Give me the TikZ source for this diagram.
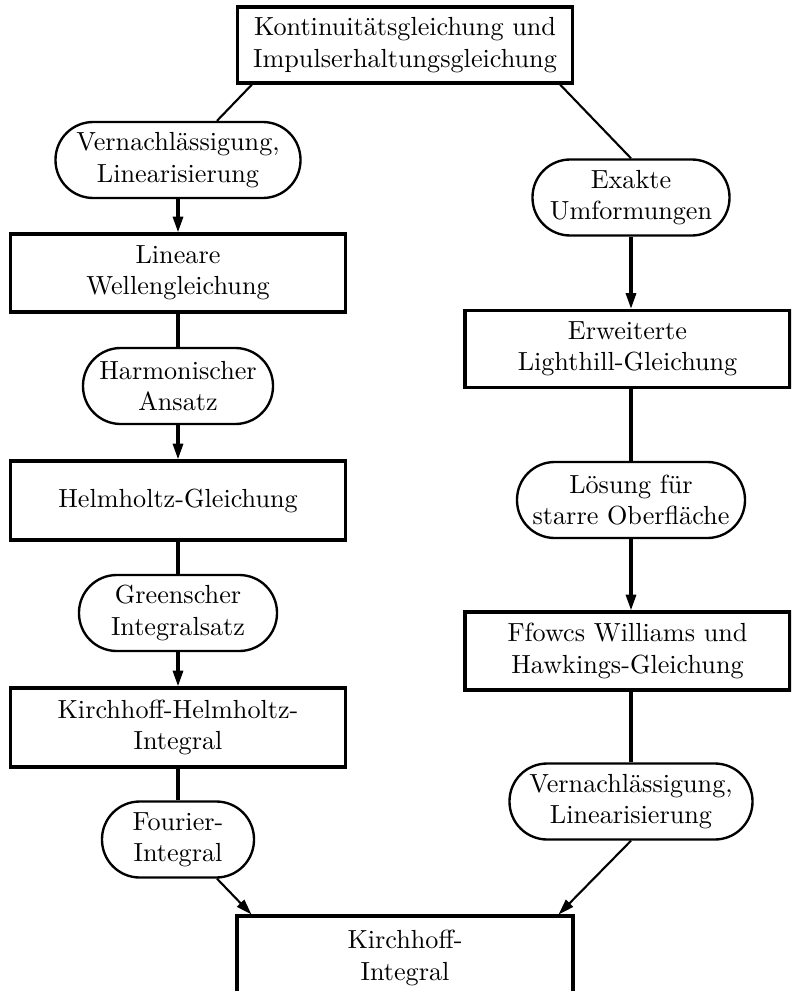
\documentclass[tikz,border=0pt]{standalone}
\usepackage{fontspec}
\usetikzlibrary{arrows.meta,calc}
\newcommand\pxu{0.382pt}
\tikzset{
  x=0.382pt, y=-0.382pt,
  boxnode/.style={draw, line width=1.2pt, rectangle, inner sep=0pt, align=center,
    minimum width=#1*\pxu, minimum height=78*\pxu},
  ovalnode/.style={draw, line width=0.9pt, rectangle, rounded corners=14.4pt, inner sep=0pt, align=center,
    minimum width=#1*\pxu, minimum height=76*\pxu},
  plain/.style={line width=1.2pt},
  diag/.style={line width=0.8pt},
  arr/.style={-{Triangle[length=6pt,width=3.8pt]}},
}
\begin{document}
\begin{tikzpicture}
\useasboundingbox (0,0) rectangle (791,991);
\clip (0,0) rectangle (791,991);
% left column
\node[boxnode=335, minimum height=76*\pxu] (top) at (405,45) {Kontinuitätsgleichung und\\Impulserhaltungsgleichung};
\node[ovalnode=245] (vl1) at (178,160) {Vernachlässigung,\\Linearisierung};
\node[boxnode=335] (lin) at (178,273) {Lineare\\Wellengleichung};
\node[ovalnode=190] (harm) at (178,386) {Harmonischer\\Ansatz};
\node[boxnode=335, minimum height=79*\pxu] (helm) at (178,500.5) {Helmholtz-Gleichung};
\node[ovalnode=198] (green) at (178,613) {Greenscher\\Integralsatz};
\node[boxnode=335, minimum height=79*\pxu] (kh) at (178,727.5) {Kirchhoff-Helmholtz-\\Integral};
\node[ovalnode=152] (four) at (178,839.5) {Fourier-\\Integral};
% right column
\node[ovalnode=197] (exa) at (631,197.5) {Exakte\\Umformungen};
\node[boxnode=325, minimum height=77*\pxu] (lig) at (627.5,349) {Erweiterte\\Lighthill-Gleichung};
\node[ovalnode=228] (loes) at (631,500) {Lösung für\\starre Oberfläche};
\node[boxnode=325] (ffw) at (627.5,651) {Ffowcs Williams und\\Hawkings-Gleichung};
\node[ovalnode=243] (vl2) at (631,801.5) {Vernachlässigung,\\Linearisierung};
% bottom
\node[boxnode=336, minimum height=84*\pxu] (bot) at (405,958) {Kirchhoff-\\Integral};
% connectors
\draw[diag] ([xshift=16*\pxu]top.south west) -- ([xshift=39*\pxu]vl1.north);
\draw[diag] ([xshift=-14*\pxu]top.south east) -- (exa.north);
\draw[plain,arr] (vl1.south) -- (lin.north);
\draw[plain] (lin.south) -- (harm.north);
\draw[plain,arr] (harm.south) -- (helm.north);
\draw[plain] (helm.south) -- (green.north);
\draw[plain,arr] (green.south) -- (kh.north);
\draw[plain] (kh.south) -- (four.north);
\draw[diag,arr] ([xshift=39*\pxu]four.south) -- ([xshift=16*\pxu]bot.north west);
\draw[plain,arr] (exa.south) -- (exa.south |- lig.north);
\draw[plain] (exa.south |- lig.south) -- (loes.north);
\draw[plain,arr] (loes.south) -- (loes.south |- ffw.north);
\draw[plain] (loes.south |- ffw.south) -- (vl2.north);
\draw[diag,arr] (vl2.south) -- ([xshift=-16*\pxu]bot.north east);
\end{tikzpicture}
\end{document}
